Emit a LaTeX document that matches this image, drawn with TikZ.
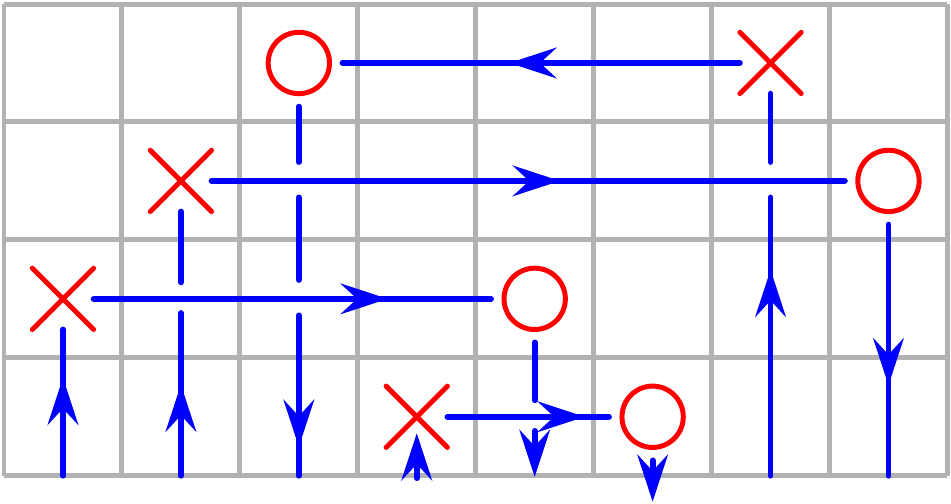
\documentclass[tikz,border=0pt]{standalone}
\usetikzlibrary{arrows.meta,decorations.markings,shapes.misc}
\begin{document}
\begin{tikzpicture}[line cap=round,
  flow/.style={draw=blue,line width=1.4pt,postaction={decorate},
    decoration={markings,mark=at position #1 with {\arrow{Stealth[length=4mm,width=2.6mm,inset=1.4mm]}}}},
  line/.style={draw=blue,line width=1.4pt},
  tipline/.style={draw=blue,line width=1.4pt,-{Stealth[length=4mm,width=2.6mm,inset=1.4mm]}},
  omark/.style={draw=red,circle,line width=1.2pt,minimum size=0.52cm,inner sep=0pt,outer sep=0.11cm},
  xmark/.style={draw=red,cross out,line width=1.2pt,minimum size=0.3cm,inner sep=0pt,outer sep=0.11cm}]
\useasboundingbox (-0.034,-0.237) rectangle (8.03,4.034);
\draw[gray!60,line width=1.2pt,line cap=butt] (0,0) grid (8,4);
% marks
\node (o1) at (2.5,3.5)[omark] {};
\node (x1) at (6.5,3.5)[xmark] {};
\node (x2) at (1.5,2.5)[xmark] {};
\node (o2) at (7.5,2.5)[omark] {};
\node (x3) at (0.5,1.5)[xmark] {};
\node (o3) at (4.5,1.5)[omark] {};
\node (x4) at (3.5,0.5)[xmark] {};
\node (o4) at (5.5,0.5)[omark] {};
% horizontal flows
\draw[flow=0.58] (x1)--(o1);
\draw[flow=0.55] (x2)--(o2);
\draw[flow=0.74] (x3)--(o3);
\draw[flow=0.85] (x4)--(o4);
% vertical flows
\draw[flow=0.67] (0.5,0)--(x3);
\draw[flow=0.56] (1.5,0)--(1.5,1.38);
\draw[line] (1.5,1.64)--(x2);
\draw[line] (o1)--(2.5,2.66);
\draw[line] (2.5,2.36)--(2.5,1.66);
\draw[flow=0.82] (2.5,1.36)--(2.5,0);
\draw[tipline] (3.5,-0.02)--(3.5,0.36);
\draw[line] (o3)--(4.5,0.64);
\draw[tipline] (4.5,0.38)--(4.5,-0.01);
\draw[tipline] (o4)--(5.5,-0.22);
\draw[flow=0.74] (6.5,0)--(6.5,2.36);
\draw[line] (6.5,2.66)--(x1);
\draw[flow=0.64] (o2)--(7.5,0);
\end{tikzpicture}
\end{document}
